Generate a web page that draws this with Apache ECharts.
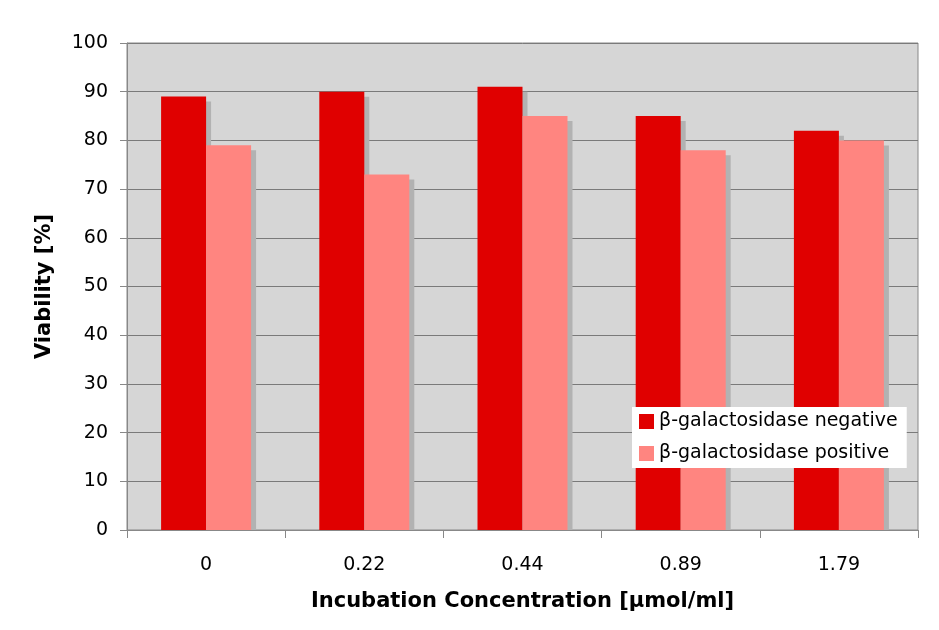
<!DOCTYPE html>
<html><head><meta charset="utf-8">
<script src="https://cdn.jsdelivr.net/npm/echarts@6/dist/echarts.min.js"></script>
<style>html,body{margin:0;padding:0;background:#fff}#c{width:939px;height:630px}</style>
</head><body><div id="c"></div>
<script>
var categories = ['0', '0.22', '0.44', '0.89', '1.79'];
var negativeValues = [89, 90, 91, 85, 82];
var positiveValues = [79, 73, 85, 78, 80];
var seriesNames = ['β-galactosidase negative', 'β-galactosidase positive'];
var xAxisTitle = 'Incubation Concentration [µmol/ml]';
var yAxisTitle = 'Viability [%]';

var FONT = 'DejaVu Sans';
var BAR_W = 45, SH = 5;
var chart = echarts.init(document.getElementById('c'), null, {renderer: 'canvas'});

function shadowSeries(values, slot) {
  return {
    type: 'custom', name: 'shadow' + slot, silent: true, z: 1,
    data: values.map(function (v, i) { return [i, v]; }),
    encode: {x: 0, y: 1},
    renderItem: function (params, api) {
      var top = api.coord([api.value(0), api.value(1)]);
      var base = api.coord([api.value(0), 0]);
      var left = top[0] + (slot === 0 ? -BAR_W : 0) + SH;
      return {
        type: 'rect',
        shape: {x: left, y: top[1] + SH, width: BAR_W, height: base[1] - top[1] - SH},
        style: {fill: '#b2b2b2'}
      };
    }
  };
}

chart.setOption({
  animation: false,
  backgroundColor: '#ffffff',
  textStyle: {fontFamily: FONT},
  grid: {left: 127, right: 21, top: 43, bottom: 100, show: true, backgroundColor: '#d6d6d6', borderColor: '#888888', borderWidth: 1},
  legend: {
    left: 632, top: 407, orient: 'vertical', backgroundColor: '#ffffff',
    padding: [5, 9, 5, 7], itemGap: 13, itemWidth: 15, itemHeight: 15,
    icon: 'rect',
    textStyle: {fontFamily: FONT, fontSize: 19, color: '#000'},
    data: seriesNames
  },
  xAxis: {
    type: 'category', data: categories, boundaryGap: true,
    axisLine: {lineStyle: {color: '#888888'}},
    axisTick: {show: true, length: 8, lineStyle: {color: '#888888'}},
    axisLabel: {fontFamily: FONT, fontSize: 19, color: '#000', margin: 26},
    name: xAxisTitle, nameLocation: 'middle', nameGap: 61,
    nameTextStyle: {fontFamily: FONT, fontSize: 21, fontWeight: 'bold', color: '#000'}
  },
  yAxis: {
    type: 'value', min: 0, max: 100, interval: 10,
    axisLine: {show: true, lineStyle: {color: '#888888'}},
    axisTick: {show: true, length: 7, lineStyle: {color: '#888888'}},
    splitLine: {show: true, lineStyle: {color: '#7a7a7a', width: 1}},
    axisLabel: {fontFamily: FONT, fontSize: 19, color: '#000', margin: 19},
    name: yAxisTitle, nameLocation: 'middle', nameGap: 72,
    nameTextStyle: {fontFamily: FONT, fontSize: 21, fontWeight: 'bold', color: '#000'}
  },
  series: [
    shadowSeries(negativeValues, 0),
    shadowSeries(positiveValues, 1),
    {name: seriesNames[0], type: 'bar', data: negativeValues, barWidth: BAR_W, barGap: '0%', z: 3, itemStyle: {color: '#e00000'}},
    {name: seriesNames[1], type: 'bar', data: positiveValues, barWidth: BAR_W, barGap: '0%', z: 3, itemStyle: {color: '#ff8580'}}
  ]
});
</script></body></html>
